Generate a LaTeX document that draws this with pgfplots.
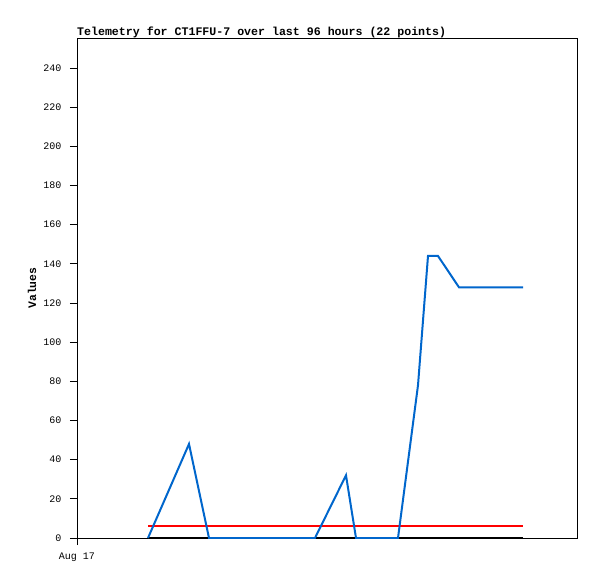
\documentclass[border=0pt]{standalone}
\usepackage{fontspec}
\setmainfont{Liberation Mono}
\usepackage{pgfplots}
\pgfplotsset{compat=1.18}
\definecolor{telblue}{RGB}{0,102,204}
\begin{document}
\begin{tikzpicture}[x=1pt,y=1pt]
\begin{axis}[
    at={(0,0)}, anchor=south west,
    scale only axis,
    width=500pt, height=500pt,
    xmin=0, xmax=500,
    ymin=0, ymax=255.3,
    axis line style={black, line width=0.8pt},
    tick style={black, line width=0.8pt},
    tick align=outside,
    major tick length=7pt,
    xtick={0}, xticklabels={Aug 17},
    ytick={0,20,...,240},
    xtick pos=bottom, ytick pos=left,
    /pgf/number format/assume math mode=true,
    ticklabel style={font=\fontsize{10}{12}\selectfont},
    yticklabel style={xshift=-5pt},
    xticklabel style={yshift=-4pt},
    ylabel={\textbf{Values}},
    ylabel style={font=\fontsize{11.4}{13}\selectfont, at={(rel axis cs:0,0.5)}, anchor=center, yshift=45pt},
    title={\textbf{Telemetry for CT1FFU-7 over last 96 hours (22 points)}},
    title style={font=\fontsize{11.6}{13}\selectfont, at={(rel axis cs:0,1)}, anchor=south west, inner sep=0pt, yshift=-6pt},
]
\addplot[black, line width=2pt] coordinates {(71,0) (446,0)};
\addplot[red, line width=2pt] coordinates {(71,6.1) (446,6.1)};
\addplot[telblue, line width=2pt] coordinates {
    (71,0) (112,48) (132,0) (153,0) (175,0) (196,0) (217,0) (238,0)
    (269,32) (279,0) (300,0) (321,0) (341,78) (351,144) (361,144)
    (382,128) (392,128) (403,128) (413,128) (424,128) (435,128) (446,128)
};
\end{axis}
\path[use as bounding box] (-77pt,-41pt) rectangle (520pt,538pt);
\end{tikzpicture}
\end{document}
